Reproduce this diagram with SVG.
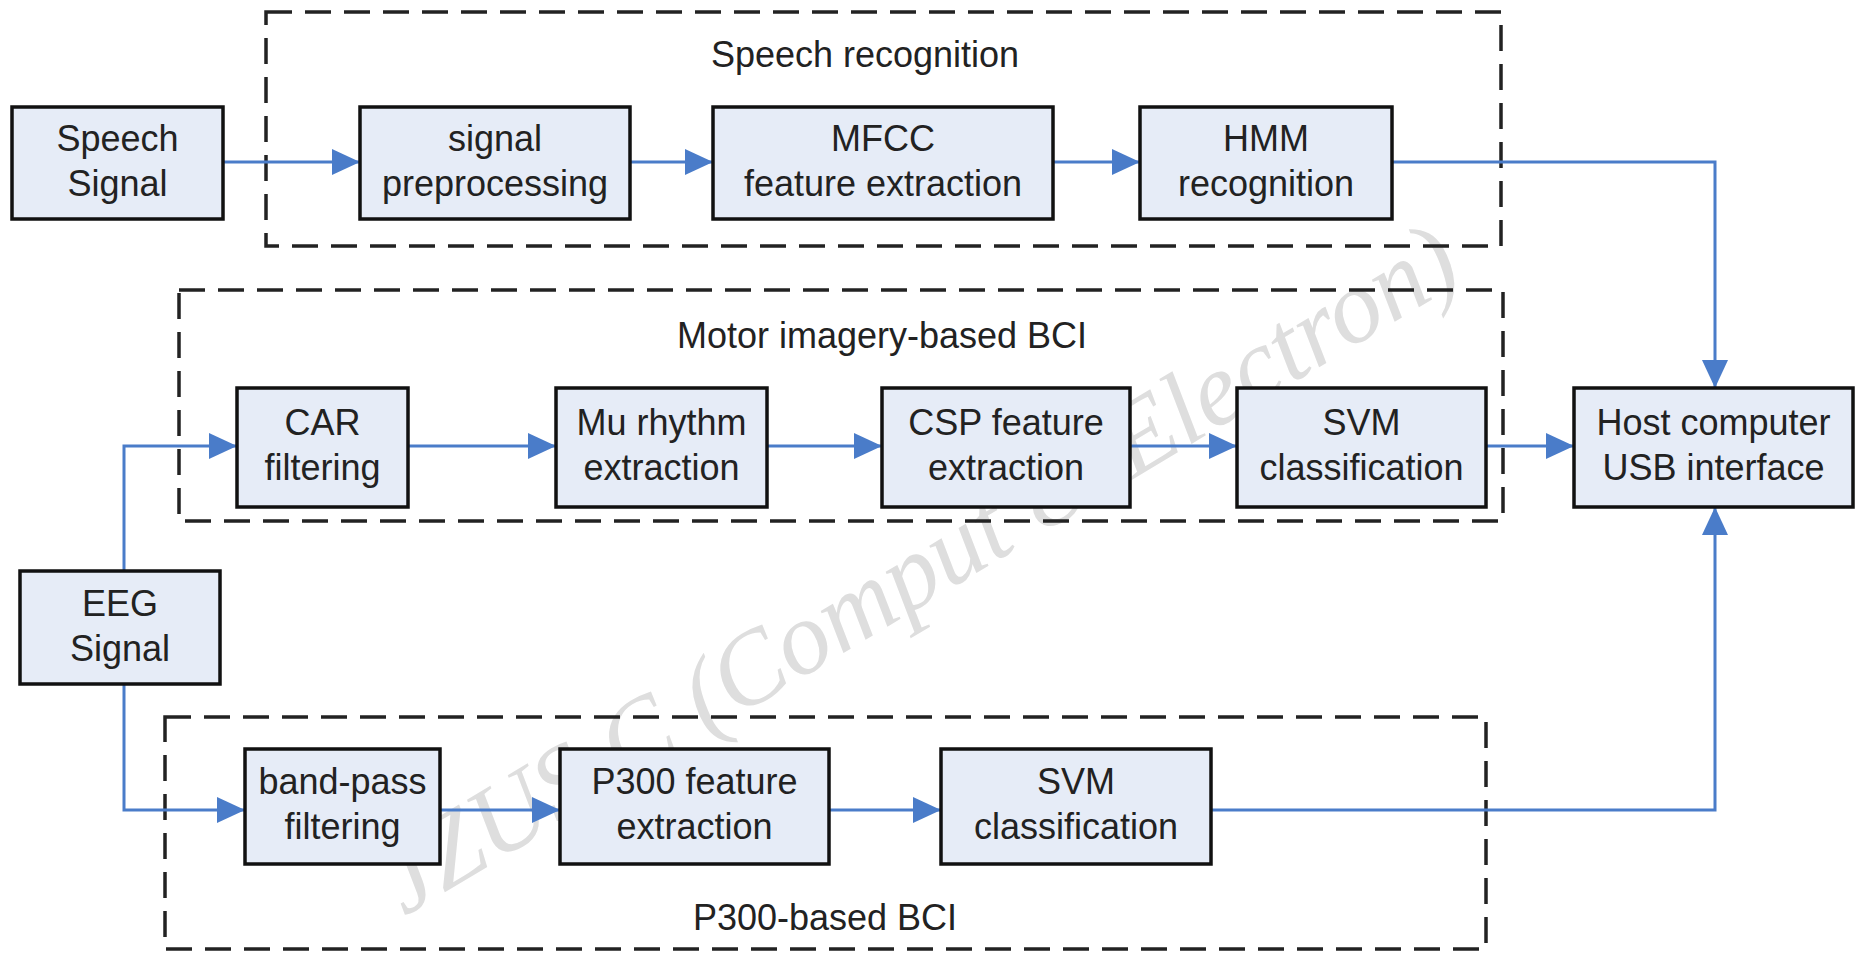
<svg xmlns="http://www.w3.org/2000/svg" width="1856" height="954" viewBox="0 0 1856 954">
<defs>
<marker id="arr" markerUnits="userSpaceOnUse" markerWidth="28" markerHeight="26" refX="28" refY="13" orient="auto">
<path d="M0,0 L28,13 L0,26 Z" fill="#4a7cc9"/>
</marker>
<style>
.box{fill:#e6ecf7;stroke:#111;stroke-width:3.5}
.grp{fill:none;stroke:#222;stroke-width:3.5;stroke-dasharray:26 13}
.t{font-family:"Liberation Sans",Arial,sans-serif;font-size:36px;fill:#222;text-anchor:middle}
.c{fill:none;stroke:#4a7cc9;stroke-width:3}
.wm{font-family:"Liberation Serif","Times New Roman",serif;font-style:italic;font-size:104px;fill:#dedede;text-anchor:middle}
</style>
</defs>
<rect width="1856" height="954" fill="#fff"/>
<g id="watermark"><text class="wm" transform="translate(935,598) rotate(-31)">JZUS C (Comput &amp; Electron)</text></g>
<g id="group-speech"><rect class="grp" x="266" y="12" width="1235" height="234"/><text class="t" x="865" y="67">Speech recognition</text></g>
<g id="group-motor"><rect class="grp" x="179" y="290" width="1324" height="231"/><text class="t" x="882" y="348">Motor imagery-based BCI</text></g>
<g id="group-p300"><rect class="grp" x="165" y="717" width="1321" height="232"/><text class="t" x="825" y="930">P300-based BCI</text></g>
<g id="connectors">
<path class="c" d="M223,162 H360" marker-end="url(#arr)"/>
<path class="c" d="M630,162 H713" marker-end="url(#arr)"/>
<path class="c" d="M1053,162 H1140" marker-end="url(#arr)"/>
<path class="c" d="M1392,162 H1715 V388" marker-end="url(#arr)"/>
<path class="c" d="M124,571 V446 H237" marker-end="url(#arr)"/>
<path class="c" d="M408,446 H556" marker-end="url(#arr)"/>
<path class="c" d="M767,446 H882" marker-end="url(#arr)"/>
<path class="c" d="M1130,446 H1237" marker-end="url(#arr)"/>
<path class="c" d="M1486,446 H1574" marker-end="url(#arr)"/>
<path class="c" d="M124,684 V810 H245" marker-end="url(#arr)"/>
<path class="c" d="M440,810 H560" marker-end="url(#arr)"/>
<path class="c" d="M829,810 H941" marker-end="url(#arr)"/>
<path class="c" d="M1211,810 H1715 V507" marker-end="url(#arr)"/>
</g>
<g id="speech-signal"><rect class="box" x="12" y="107" width="211" height="112"/><text class="t" x="117.5" y="151">Speech</text><text class="t" x="117.5" y="196">Signal</text></g>
<g id="signal-preprocessing"><rect class="box" x="360" y="107" width="270" height="112"/><text class="t" x="495" y="151">signal</text><text class="t" x="495" y="196">preprocessing</text></g>
<g id="mfcc"><rect class="box" x="713" y="107" width="340" height="112"/><text class="t" x="883" y="151">MFCC</text><text class="t" x="883" y="196">feature extraction</text></g>
<g id="hmm"><rect class="box" x="1140" y="107" width="252" height="112"/><text class="t" x="1266" y="151">HMM</text><text class="t" x="1266" y="196">recognition</text></g>
<g id="car"><rect class="box" x="237" y="388" width="171" height="119"/><text class="t" x="322.5" y="435">CAR</text><text class="t" x="322.5" y="480">filtering</text></g>
<g id="mu"><rect class="box" x="556" y="388" width="211" height="119"/><text class="t" x="661.5" y="435">Mu rhythm</text><text class="t" x="661.5" y="480">extraction</text></g>
<g id="csp"><rect class="box" x="882" y="388" width="248" height="119"/><text class="t" x="1006" y="435">CSP feature</text><text class="t" x="1006" y="480">extraction</text></g>
<g id="svm1"><rect class="box" x="1237" y="388" width="249" height="119"/><text class="t" x="1361.5" y="435">SVM</text><text class="t" x="1361.5" y="480">classification</text></g>
<g id="host"><rect class="box" x="1574" y="388" width="279" height="119"/><text class="t" x="1713.5" y="435">Host computer</text><text class="t" x="1713.5" y="480">USB interface</text></g>
<g id="eeg"><rect class="box" x="20" y="571" width="200" height="113"/><text class="t" x="120" y="616">EEG</text><text class="t" x="120" y="661">Signal</text></g>
<g id="bandpass"><rect class="box" x="245" y="749" width="195" height="115"/><text class="t" x="342.5" y="794">band-pass</text><text class="t" x="342.5" y="839">filtering</text></g>
<g id="p300"><rect class="box" x="560" y="749" width="269" height="115"/><text class="t" x="694.5" y="794">P300 feature</text><text class="t" x="694.5" y="839">extraction</text></g>
<g id="svm2"><rect class="box" x="941" y="749" width="270" height="115"/><text class="t" x="1076" y="794">SVM</text><text class="t" x="1076" y="839">classification</text></g>
</svg>
